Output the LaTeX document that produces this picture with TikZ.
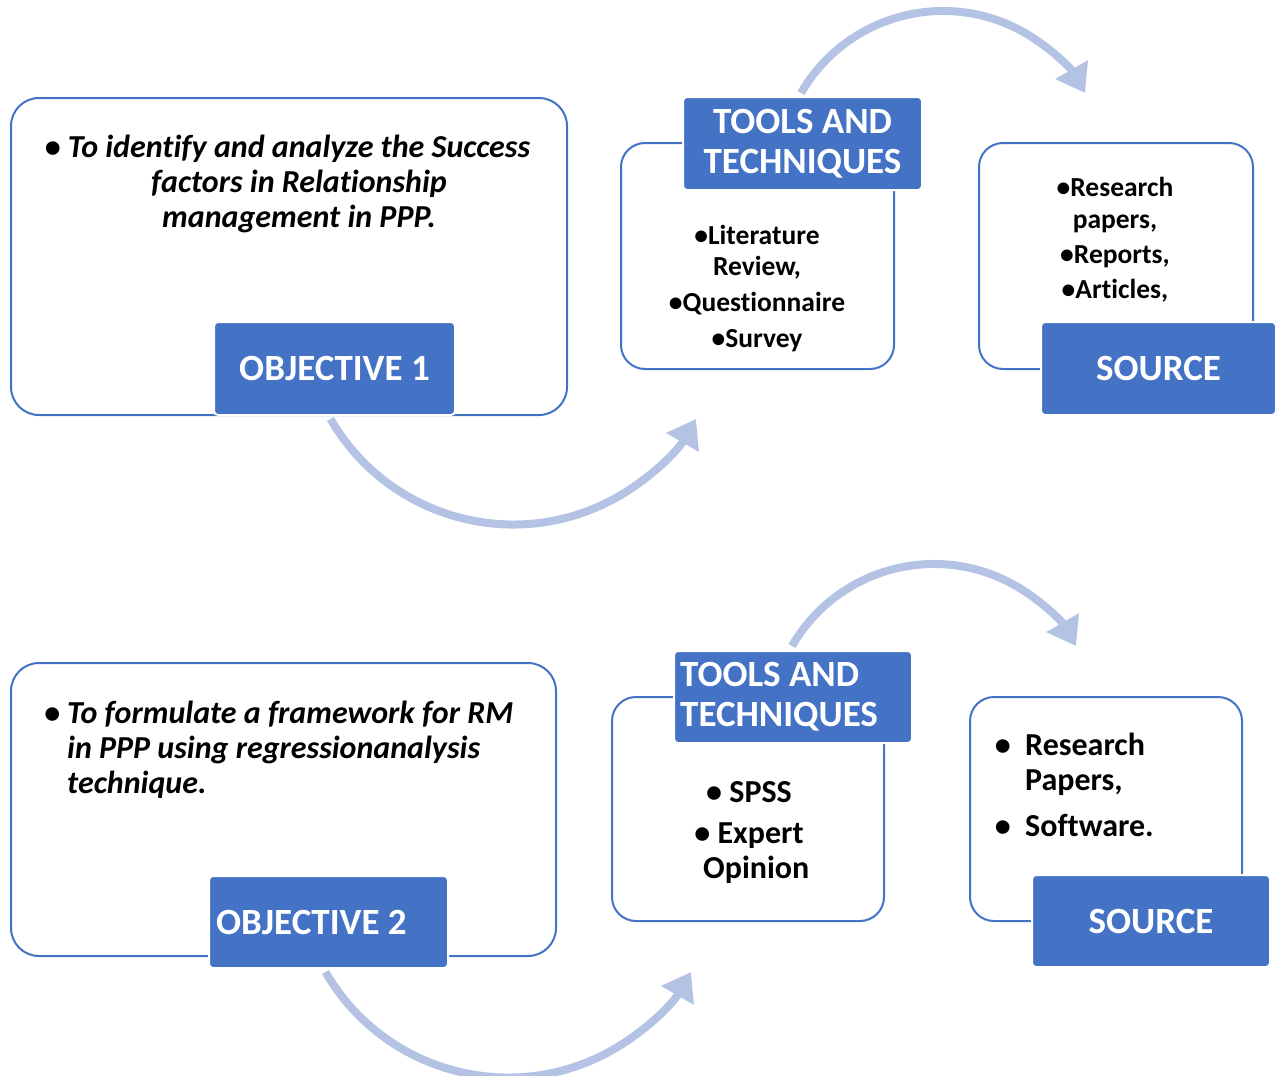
\documentclass[tikz,border=0pt]{standalone}
\usepackage{fontspec}
\setmainfont{Carlito}[Ligatures=CommonOff]
\usetikzlibrary{arrows.meta, positioning}
\definecolor{hdblue}{RGB}{68,114,196}
\definecolor{arrblue}{RGB}{180,194,228}

\tikzset{
  frame/.style={draw=hdblue, line width=2pt, rounded corners=28pt, fill=white, anchor=north west, inner sep=0pt},
  header/.style={fill=hdblue, draw=white, line width=2pt, rounded corners=4pt, text=white, anchor=north west,
    minimum width=239pt, minimum height=93pt, inner sep=0pt, font=\bfseries\fontsize{37}{40}\selectfont},
  hdtxt/.style={text=white, inner sep=0pt, anchor=west, align=left, font=\bfseries\fontsize{37}{40}\selectfont},
  curve/.style={arrblue, line width=8pt, -{Triangle[width=36pt,length=27pt]}},
  smalltxt/.style={font=\bfseries\fontsize{27.5}{31}\selectfont, align=center, inner sep=0pt},
  bigtxt/.style={font=\bfseries\fontsize{32}{35}\selectfont, inner sep=0pt}
}

\begin{document}
\begin{tikzpicture}[x=1pt, y=1pt]
    \useasboundingbox (0,0) rectangle (1275,-1076);

    % first row
    \node[frame, minimum width=556pt, minimum height=317pt] (goal1) at (10,-97) {};
    \node[frame, minimum width=273pt, minimum height=226pt, rounded corners=24pt] (tools1) at (620,-142) {};
    \node[frame, minimum width=274pt, minimum height=226pt, rounded corners=24pt] (src1) at (978,-142) {};

    \node[bigtxt, align=center, font=\bfseries\itshape\fontsize{32}{35}\selectfont, anchor=north] (goal1txt) at (299,-135)
        {\llap{•\ }To identify and analyze the Success\\ factors in Relationship\\ management in PPP.};
    \node[smalltxt, anchor=north] (tools1txt) at (757,-225.5)
        {•Literature\\ Review,\\[5pt] •Questionnaire\\[5pt] •Survey};
    \node[smalltxt, anchor=north, font=\bfseries\fontsize{27.5}{32}\selectfont] (src1txt) at (1115,-177.5)
        {•Research\\ papers,\\[3pt] •Reports,\\[3pt] •Articles,};

    \node[header, minimum width=241pt] (obj1) at (213,-321) {OBJECTIVE 1};
    \node[header, align=center] (th1) at (682,-96) {TOOLS AND\\TECHNIQUES};
    \node[header, minimum width=235pt] (srchd1) at (1040,-321) {SOURCE};

    % second row
    \node[frame, minimum width=545pt, minimum height=293pt] (goal2) at (10,-662) {};
    \node[frame, minimum width=272pt, minimum height=224pt, rounded corners=24pt] (tools2) at (611,-696) {};
    \node[frame, minimum width=272pt, minimum height=224pt, rounded corners=24pt] (src2) at (969,-696) {};

    \node[bigtxt, align=left, font=\bfseries\itshape\fontsize{32}{35}\selectfont, anchor=north west] (goal2txt) at (67,-700.5)
        {\llap{•\ }To formulate a framework for RM\\ in PPP using regressionanalysis\\ technique.};
    \node[bigtxt, align=center, anchor=north] (tools2txt) at (749,-781.5)
        {• SPSS\\[6pt] • Expert\\ \ \ Opinion};
    \node[bigtxt, align=left, anchor=north west] (src2txt) at (1025,-732.5)
        {\llap{•\ \ }Research\\ Papers,\\[11pt] \llap{•\ \ }Software.};

    \node[header, minimum height=92pt] (obj2) at (208,-875) {};
    \node[hdtxt] (obj2txt) at ([xshift=8pt]obj2.west) {OBJECTIVE 2};
    \node[header, minimum width=238pt, minimum height=92pt] (th2) at (673,-650) {};
    \node[hdtxt] (th2txt) at ([xshift=7pt]th2.west) {TOOLS AND\\TECHNIQUES};
    \node[header, minimum width=238pt, minimum height=92pt] (srchd2) at (1031,-874) {SOURCE};

    % curved arrows
    \draw[curve] ([xshift=-4pt, yshift=-3pt]obj1.south) arc[start angle=210, end angle=330, radius=211pt];
    \draw[curve] ([xshift=-1.5pt, yshift=3pt]th1.north) arc[start angle=150, end angle=30, radius=164pt];
    \draw[curve] ([xshift=-3pt, yshift=-3pt]obj2.south) arc[start angle=210, end angle=330, radius=211pt];
    \draw[curve] ([xshift=-1pt, yshift=4pt]th2.north) arc[start angle=150, end angle=30, radius=164pt];
\end{tikzpicture}
\end{document}
